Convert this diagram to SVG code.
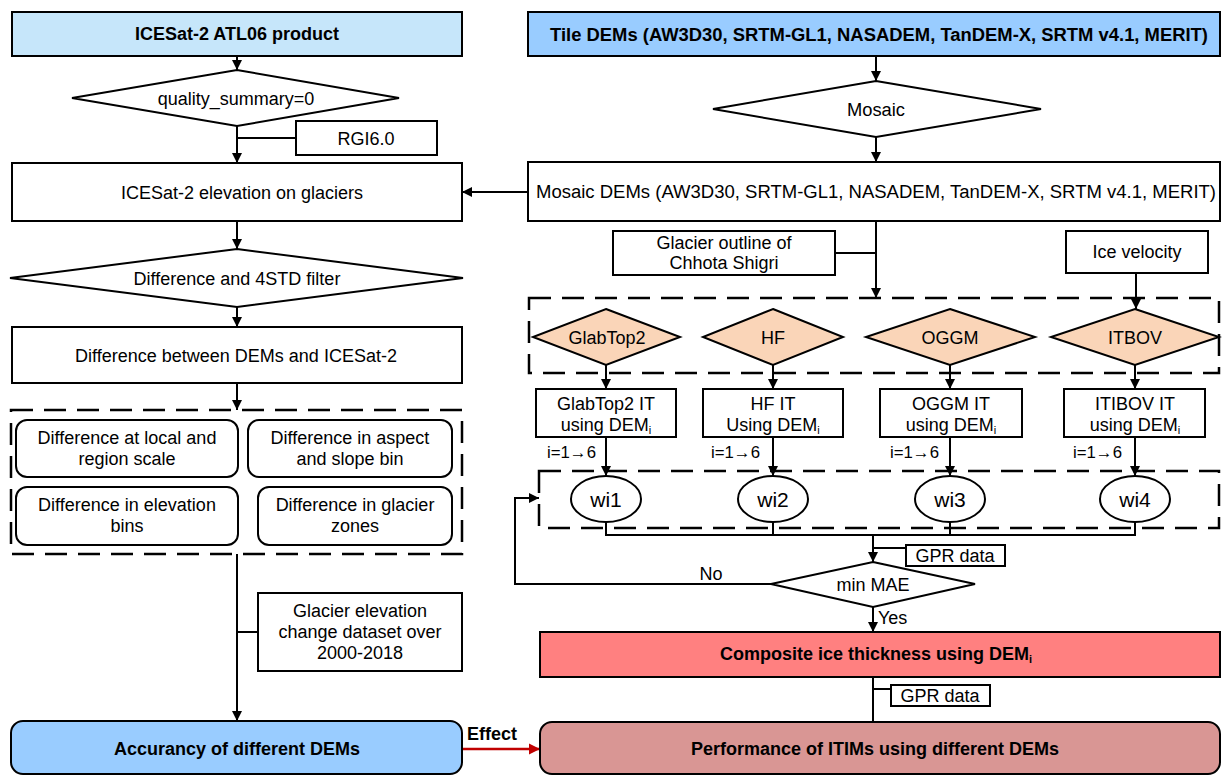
<svg xmlns="http://www.w3.org/2000/svg" width="1222" height="776" viewBox="0 0 1222 776">
  <style>
    text { font-family: "Liberation Sans", Arial, sans-serif; font-size: 18px; fill: #000; }
    .c { text-anchor: middle; }
    .b { font-weight: bold; }
    .box { fill: #fff; stroke: #000; stroke-width: 2; }
    .dash { fill: none; stroke: #000; stroke-width: 2.5; stroke-dasharray: 22 11; }
    .ln { fill: none; stroke: #000; stroke-width: 2; }
    .arr { fill: none; stroke: #000; stroke-width: 2; marker-end: url(#ah); }
    .model { fill: #fad5b8; stroke: #000; stroke-width: 2; }
    .sub { font-size: 11px; }
  </style>
  <defs>
    <marker id="ah" viewBox="0 0 10 10" refX="10" refY="5" markerWidth="11" markerHeight="10" markerUnits="userSpaceOnUse" orient="auto">
      <path d="M0,0 L10,5 L0,10 z" fill="#000"/>
    </marker>
    <marker id="ahr" viewBox="0 0 10 10" refX="10" refY="5" markerWidth="11" markerHeight="12" markerUnits="userSpaceOnUse" orient="auto">
      <path d="M0,0 L10,5 L0,10 z" fill="#c00000"/>
    </marker>
  </defs>

  <rect width="1222" height="776" fill="#fff"/>

  <!-- group outlines -->
  <g id="groups">
    <rect class="dash" x="11" y="410" width="451" height="144"/>
    <rect class="dash" x="529" y="298" width="690" height="75"/>
    <rect class="dash" x="539" y="471" width="680" height="57"/>
  </g>

  <!-- connectors -->
  <g id="connectors">
    <line class="arr" x1="237" y1="56" x2="237" y2="70"/>
    <line class="arr" x1="237" y1="126" x2="237" y2="163"/>
    <line class="ln" x1="237" y1="138" x2="296" y2="138"/>
    <line class="arr" x1="237" y1="221" x2="237" y2="249"/>
    <line class="arr" x1="237" y1="307" x2="237" y2="327"/>
    <line class="arr" x1="237" y1="383" x2="237" y2="410"/>
    <line class="arr" x1="237" y1="554" x2="237" y2="721"/>
    <line class="ln" x1="237" y1="632" x2="258" y2="632"/>

    <line class="arr" x1="876" y1="56" x2="876" y2="81"/>
    <line class="arr" x1="876" y1="137" x2="876" y2="162"/>
    <line class="arr" x1="528" y1="192" x2="462" y2="192"/>
    <line class="arr" x1="876" y1="221" x2="876" y2="298"/>
    <line class="ln" x1="835" y1="253" x2="876" y2="253"/>
    <line class="arr" x1="1136" y1="273" x2="1136" y2="309"/>

    <line class="arr" x1="606" y1="365" x2="606" y2="389"/>
    <line class="arr" x1="773" y1="365" x2="773" y2="389"/>
    <line class="arr" x1="950" y1="365" x2="950" y2="389"/>
    <line class="arr" x1="1135" y1="365" x2="1135" y2="389"/>

    <line class="arr" x1="606" y1="437" x2="606" y2="476"/>
    <line class="arr" x1="773" y1="437" x2="773" y2="476"/>
    <line class="arr" x1="950" y1="437" x2="950" y2="476"/>
    <line class="arr" x1="1135" y1="437" x2="1135" y2="476"/>

    <polyline class="ln" points="606,522 606,535 1135,535 1135,522"/>
    <line class="ln" x1="773" y1="522" x2="773" y2="535"/>
    <line class="ln" x1="950" y1="522" x2="950" y2="535"/>
    <line class="arr" x1="873" y1="535" x2="873" y2="562"/>
    <line class="ln" x1="873" y1="548" x2="906" y2="548"/>
    <polyline class="arr" points="771,584 515,584 515,498 539,498"/>
    <line class="arr" x1="873" y1="607" x2="873" y2="632"/>
    <line class="ln" x1="873" y1="677" x2="873" y2="722"/>
    <line class="ln" x1="873" y1="689" x2="891" y2="689"/>
    <line x1="462" y1="749" x2="540" y2="749" stroke="#c00000" stroke-width="2.5" marker-end="url(#ahr)"/>

    <text x="547" y="458" textLength="49" lengthAdjust="spacingAndGlyphs" style="font-size:17px">i=1→6</text>
    <text x="711" y="458" textLength="49" lengthAdjust="spacingAndGlyphs" style="font-size:17px">i=1→6</text>
    <text x="890" y="458" textLength="49" lengthAdjust="spacingAndGlyphs" style="font-size:17px">i=1→6</text>
    <text x="1073" y="458" textLength="49" lengthAdjust="spacingAndGlyphs" style="font-size:17px">i=1→6</text>
    <text class="c" x="711" y="580">No</text>
    <text x="878" y="624">Yes</text>
    <text class="b" x="467" y="740">Effect</text>
  </g>

  <!-- left column: ICESat-2 processing -->
  <g id="atl06">
    <rect x="12" y="12" width="450" height="44" fill="#c6e6fa" stroke="#000" stroke-width="2"/>
    <text class="c b" x="237" y="40">ICESat-2 ATL06 product</text>
  </g>
  <g id="quality">
    <polygon class="box" points="237,70 399,98 237,126 72,98"/>
    <text class="c" x="236" y="104.5">quality_summary=0</text>
  </g>
  <g id="rgi">
    <rect class="box" x="296" y="121" width="141" height="34"/>
    <text class="c" x="366" y="144.5">RGI6.0</text>
  </g>
  <g id="icesat-elev">
    <rect class="box" x="12" y="163" width="450" height="58"/>
    <text class="c" x="242" y="198.5">ICESat-2 elevation on glaciers</text>
  </g>
  <g id="filter">
    <polygon class="box" points="237,249 463,278 237,307 10,278"/>
    <text class="c" x="237" y="284.5">Difference and 4STD filter</text>
  </g>
  <g id="diff">
    <rect class="box" x="12" y="327" width="450" height="56"/>
    <text class="c" x="236" y="362">Difference between DEMs and ICESat-2</text>
  </g>
  <g id="diff-scale">
    <rect class="box" x="16" y="420" width="222" height="57" rx="11"/>
    <text class="c" x="127" y="444">Difference at local and</text>
    <text class="c" x="127" y="465">region scale</text>
  </g>
  <g id="diff-aspect">
    <rect class="box" x="248" y="420" width="204" height="57" rx="11"/>
    <text class="c" x="350" y="444">Difference in aspect</text>
    <text class="c" x="350" y="465">and slope bin</text>
  </g>
  <g id="diff-elev">
    <rect class="box" x="16" y="487" width="222" height="58" rx="11"/>
    <text class="c" x="127" y="511">Difference in elevation</text>
    <text class="c" x="127" y="532">bins</text>
  </g>
  <g id="diff-zones">
    <rect class="box" x="258" y="487" width="194" height="58" rx="11"/>
    <text class="c" x="355" y="511">Difference in glacier</text>
    <text class="c" x="355" y="532">zones</text>
  </g>
  <g id="dh-dataset">
    <rect class="box" x="258" y="593" width="204" height="78"/>
    <text class="c" x="360" y="617">Glacier elevation</text>
    <text class="c" x="360" y="638">change dataset over</text>
    <text class="c" x="360" y="659">2000-2018</text>
  </g>
  <g id="accuracy">
    <rect x="11" y="721" width="451" height="53" rx="12" fill="#99ccff" stroke="#000" stroke-width="2"/>
    <text class="c b" x="237" y="755">Accurancy of different DEMs</text>
  </g>

  <!-- right column: ice thickness models -->
  <g id="tile-dems">
    <rect x="528" y="12" width="692" height="44" fill="#99ccff" stroke="#000" stroke-width="2"/>
    <text class="c b" x="879" y="40.5" textLength="658" lengthAdjust="spacingAndGlyphs">Tile DEMs (AW3D30, SRTM-GL1, NASADEM, TanDEM-X, SRTM v4.1, MERIT)</text>
  </g>
  <g id="mosaic">
    <polygon class="box" points="876,81 1041,109 876,137 713,109"/>
    <text class="c" x="876" y="115.5" textLength="58" lengthAdjust="spacingAndGlyphs">Mosaic</text>
  </g>
  <g id="mosaic-dems">
    <rect class="box" x="528" y="162" width="692" height="59"/>
    <text class="c" x="876" y="198" textLength="680" lengthAdjust="spacingAndGlyphs">Mosaic DEMs (AW3D30, SRTM-GL1, NASADEM, TanDEM-X, SRTM v4.1, MERIT)</text>
  </g>
  <g id="outline">
    <rect class="box" x="613" y="231" width="222" height="44"/>
    <text class="c" x="724" y="249">Glacier outline of</text>
    <text class="c" x="724" y="269">Chhota Shigri</text>
  </g>
  <g id="velocity">
    <rect class="box" x="1066" y="231" width="142" height="42"/>
    <text class="c" x="1137" y="258">Ice velocity</text>
  </g>
  <g id="glabtop2">
    <polygon class="model" points="606,309 680,337 606,365 533,337"/>
    <text class="c" x="607" y="343.5">GlabTop2</text>
  </g>
  <g id="hf">
    <polygon class="model" points="773,309 843,337 773,365 703,337"/>
    <text class="c" x="773" y="343.5">HF</text>
  </g>
  <g id="oggm">
    <polygon class="model" points="950,309 1035,337 950,365 866,337"/>
    <text class="c" x="950" y="343.5">OGGM</text>
  </g>
  <g id="itbov">
    <polygon class="model" points="1135,309 1219,337 1135,365 1051,337"/>
    <text class="c" x="1135" y="343.5">ITBOV</text>
  </g>
  <g id="glabtop2-it">
    <rect class="box" x="536" y="389" width="140" height="48"/>
    <text class="c" x="606" y="409.5">GlabTop2 IT</text>
    <text class="c" x="606" y="430.5">using DEM<tspan class="sub" dy="3">i</tspan></text>
  </g>
  <g id="hf-it">
    <rect class="box" x="703" y="389" width="140" height="48"/>
    <text class="c" x="773" y="409.5">HF IT</text>
    <text class="c" x="773" y="430.5">Using DEM<tspan class="sub" dy="3">i</tspan></text>
  </g>
  <g id="oggm-it">
    <rect class="box" x="880" y="389" width="142" height="48"/>
    <text class="c" x="951" y="409.5">OGGM IT</text>
    <text class="c" x="951" y="430.5">using DEM<tspan class="sub" dy="3">i</tspan></text>
  </g>
  <g id="itbov-it">
    <rect class="box" x="1064" y="389" width="141" height="48"/>
    <text class="c" x="1135" y="409.5">ITIBOV IT</text>
    <text class="c" x="1135" y="430.5">using DEM<tspan class="sub" dy="3">i</tspan></text>
  </g>
  <g id="wi1">
    <ellipse class="box" cx="606" cy="499" rx="35" ry="23"/>
    <text class="c" x="606" y="507" style="font-size:21px">wi1</text>
  </g>
  <g id="wi2">
    <ellipse class="box" cx="773" cy="499" rx="35" ry="23"/>
    <text class="c" x="773" y="507" style="font-size:21px">wi2</text>
  </g>
  <g id="wi3">
    <ellipse class="box" cx="950" cy="499" rx="35" ry="23"/>
    <text class="c" x="950" y="507" style="font-size:21px">wi3</text>
  </g>
  <g id="wi4">
    <ellipse class="box" cx="1135" cy="499" rx="35" ry="23"/>
    <text class="c" x="1135" y="507" style="font-size:21px">wi4</text>
  </g>
  <g id="gpr1">
    <rect class="box" x="906" y="545" width="99" height="21"/>
    <text class="c" x="955" y="561.5">GPR data</text>
  </g>
  <g id="min-mae">
    <polygon class="box" points="873,562 975,584 873,607 771,584"/>
    <text class="c" x="873" y="590.5">min MAE</text>
  </g>
  <g id="composite">
    <rect x="540" y="632" width="680" height="45" fill="#ff8080" stroke="#000" stroke-width="2"/>
    <text class="c b" x="876" y="660">Composite ice thickness using DEM<tspan class="sub" dy="3">i</tspan></text>
  </g>
  <g id="gpr2">
    <rect class="box" x="891" y="685" width="99" height="21"/>
    <text class="c" x="940" y="702">GPR data</text>
  </g>
  <g id="performance">
    <rect x="540" y="722" width="680" height="52" rx="12" fill="#d99694" stroke="#000" stroke-width="2"/>
    <text class="c b" x="875" y="755">Performance of ITIMs using different DEMs</text>
  </g>
</svg>
